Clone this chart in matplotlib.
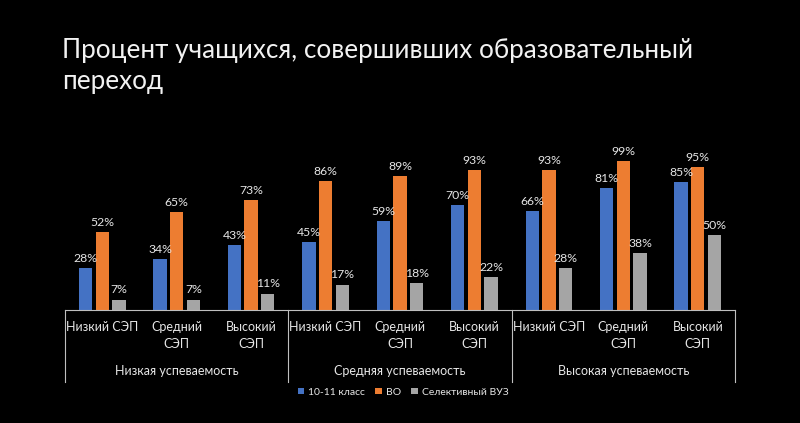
import matplotlib
matplotlib.use("Agg")
import matplotlib.pyplot as plt
import matplotlib.transforms as mtransforms
from matplotlib.patches import Patch
import numpy as np

plt.rcParams['font.family'] = ['Lato', 'DejaVu Sans']

title = "Процент учащихся, совершивших образовательный\nпереход"
categories = ["Низкий СЭП", "Средний\nСЭП", "Высокий\nСЭП"] * 3
groups = ["Низкая успеваемость", "Средняя успеваемость", "Высокая успеваемость"]
series_names = ["10-11 класс", "ВО", "Селективный ВУЗ"]
school = [28, 34, 43, 45, 59, 70, 66, 81, 85]
higher = [52, 65, 73, 86, 89, 93, 93, 99, 95]
selective = [7, 7, 11, 17, 18, 22, 28, 38, 50]
colors = ["#4472C4", "#ED7D31", "#A5A5A5"]
txt = "#E6E6E6"

fig = plt.figure(figsize=(8, 4.23), dpi=100, facecolor="black")
ax = fig.add_axes([65/800, 113/423, 670/800, 150/423])
ax.set_facecolor("black")
ax.set_xlim(0, 9)
ax.set_ylim(0, 100)

x = np.arange(9) + 0.5
w = 0.18
off = 0.224
for vals, dx, c in zip([school, higher, selective], [-off, 0, off], colors):
    ax.bar(x + dx, vals, width=w, color=c)
    for xi, v in zip(x + dx, vals):
        ax.annotate(f"{v}%", (xi, v), xytext=(0, 3), textcoords="offset points",
                    ha="center", va="bottom", fontsize=8.8, color=txt)

for s in ["top", "right", "left"]:
    ax.spines[s].set_visible(False)
ax.spines["bottom"].set_color("#BFBFBF")
ax.spines["bottom"].set_linewidth(0.8)
ax.set_yticks([])
ax.set_xticks([])

trans = mtransforms.blended_transform_factory(ax.transData, ax.transAxes)
for xv in [0, 3, 6, 9]:
    ax.plot([xv, xv], [0, -0.48], transform=trans, color="#BFBFBF", lw=0.8, clip_on=False)

for xi, lab in zip(x, categories):
    ax.text(xi, -0.07, lab, transform=trans, ha="center", va="top", fontsize=9,
            color=txt, linespacing=1.5)
for gi, g in enumerate(groups):
    ax.text(gi * 3 + 1.5, -0.405, g, transform=trans, ha="center", va="center",
            fontsize=9, color=txt)

fig.text(62/800, 1 - 38/423, title, ha="left", va="top", fontsize=18.8, color="#F2F2F2",
         linespacing=1.3)

handles = [Patch(facecolor=c, edgecolor="none") for c in colors]
fig.legend(handles, series_names, loc="center", bbox_to_anchor=(403/800, 1 - 392/423),
           ncol=3, frameon=False, fontsize=7.5, labelcolor=txt, handlelength=0.6,
           handleheight=0.6, handletextpad=0.4, columnspacing=1.0)

fig.savefig("out.png", dpi=100, facecolor="black")
